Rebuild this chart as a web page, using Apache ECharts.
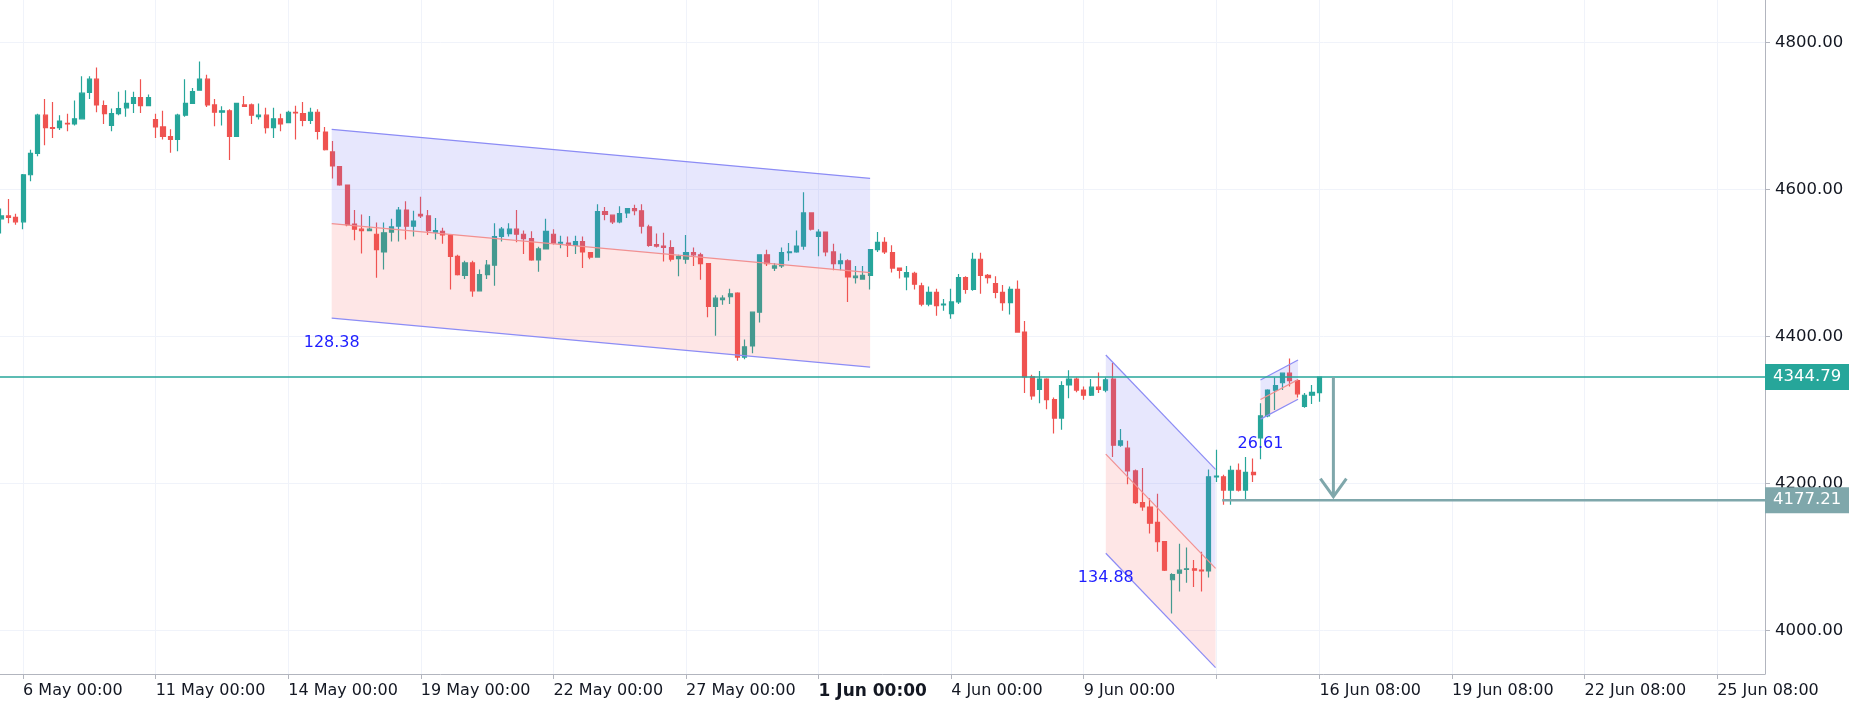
<!DOCTYPE html>
<html>
<head>
<meta charset="utf-8">
<title>Price channels</title>
<script src="https://cdn.jsdelivr.net/npm/echarts@6/dist/echarts.min.js"></script>
<style>
  html, body { margin: 0; padding: 0; background: #fff; }
  #chart { width: 1849px; height: 710px; }
</style>
</head>
<body>
<div id="chart"></div>
<script>
// candle values, one per bar (index 0 = first visible bar)
const opens = [4560,4564,4562,4556,4620,4649,4701,4684,4684,4690,4689,4696,4732,4750,4714,4687,4703,4711,4717,4725,
  4714,4695,4685,4672,4668,4701,4717,4735,4750,4715,4705,4707,4672,4715,4715,4699,4701,4684,4696,4691,
  4705,4703,4694,4705,4678,4651,4631,4606,4553,4546,4544,4539,4515,4542,4550,4572,4550,4566,4564,4542,
  4543,4538,4509,4483,4500,4462,4484,4497,4536,4540,4546,4539,4533,4504,4519,4539,4527,4527,4524,4529,
  4514,4508,4570,4565,4556,4568,4574,4571,4549,4525,4523,4521,4506,4505,4514,4511,4499,4441,4450,4454,
  4459,4372,4387,4433,4511,4493,4496,4514,4515,4523,4568,4536,4542,4515,4499,4503,4480,4478,4483,4518,
  4528,4514,4493,4481,4486,4469,4444,4460,4443,4431,4447,4480,4464,4505,4483,4472,4460,4446,4464,4406,
  4345,4328,4342,4314,4289,4334,4342,4327,4320,4331,4327,4342,4252,4248,4217,4174,4168,4147,4121,4069,
  4078,4083,4084,4082,4081,4209,4209,4191,4218,4191,4215,4262,4292,4327,4337,4350,4340,4305,4320,4323.5];
const closes = [4564,4562,4556,4620,4649,4701,4684,4683,4693,4689,4696,4731,4750,4715,4703,4703,4710,4717,4725,4714,
  4725,4685,4672,4668,4701,4717,4733,4750,4715,4705,4707,4672,4717,4713,4701,4701,4684,4696,4689,4705,
  4704,4694,4705,4679,4654,4632,4606,4552,4546,4544,4546,4518,4541,4549,4572,4550,4557,4564,4544,4544,
  4538,4509,4484,4500,4462,4484,4497,4536,4546,4546,4539,4533,4504,4519,4543,4527,4528,4524,4529,4515,
  4508,4570,4566,4556,4567,4574,4571,4550,4524,4523,4521,4505,4509,4514,4511,4499,4441,4452,4452,4458,
  4372,4386,4433,4511,4499,4496,4514,4515,4523,4568,4546,4542,4515,4499,4503,4481,4482,4483,4518,4528,
  4515,4493,4490,4487,4471,4444,4460,4442,4444,4447,4480,4464,4505,4483,4480,4460,4446,4464,4406,4345,
  4319,4342,4314,4289,4333,4342,4327,4320,4331,4328,4341,4252,4258,4217,4174,4168,4146,4121,4082,4076,
  4082,4084,4082,4081,4209,4210,4191,4218,4191,4215,4212,4292,4327,4333,4350,4340,4322,4320,4324,4344.79];
const lows = [4540,4554,4552,4546,4611,4645,4660,4670,4681,4679,4687,4695,4723,4705,4689,4679,4701,4699,4704,4704,
  4713,4670,4668,4650,4652,4699,4717,4735,4712,4686,4687,4640,4672,4712,4689,4695,4676,4670,4679,4690,
  4668,4686,4689,4668,4653,4615,4605,4550,4531,4513,4544,4480,4491,4529,4529,4532,4536,4561,4538,4532,
  4526,4464,4483,4478,4454,4462,4478,4469,4529,4536,4528,4512,4503,4488,4519,4525,4520,4508,4512,4493,
  4505,4507,4558,4553,4554,4561,4565,4540,4522,4521,4502,4502,4482,4499,4496,4477,4426,4401,4443,4444,
  4367,4369,4377,4419,4496,4489,4493,4503,4514,4518,4544,4509,4509,4490,4490,4447,4472,4477,4464,4515,
  4512,4487,4479,4463,4464,4441,4441,4428,4435,4424,4444,4458,4462,4458,4472,4452,4435,4430,4405,4323,
  4314,4309,4301,4268,4273,4316,4324,4314,4319,4323,4324,4236,4250,4199,4172,4163,4132,4107,4081,4023,
  4053,4065,4059,4053,4072,4202,4171,4171,4189,4178,4202,4233,4290,4300,4327,4332,4317,4303,4308,4311];
const highs = [4574,4587,4567,4621,4654,4703,4723,4719,4701,4703,4721,4754,4754,4766,4721,4710,4733,4735,4733,4750,
  4729,4703,4707,4682,4703,4750,4738,4774,4756,4723,4713,4709,4718,4727,4717,4717,4711,4711,4703,4707,
  4714,4719,4711,4709,4685,4666,4631,4606,4572,4566,4564,4555,4555,4560,4576,4584,4571,4590,4572,4561,
  4548,4538,4511,4503,4503,4491,4504,4554,4549,4554,4572,4544,4543,4522,4560,4546,4537,4536,4537,4536,
  4515,4580,4576,4565,4577,4574,4579,4580,4552,4540,4541,4531,4511,4538,4521,4514,4499,4456,4456,4465,
  4460,4396,4433,4511,4518,4500,4521,4527,4544,4596,4568,4546,4542,4526,4513,4505,4496,4496,4519,4542,
  4535,4524,4493,4496,4488,4473,4468,4465,4451,4465,4485,4482,4514,4514,4485,4482,4470,4468,4476,4421,
  4348,4353,4343,4317,4339,4354,4344,4332,4342,4351,4344,4364,4274,4258,4219,4221,4180,4186,4121,4078,
  4118,4113,4096,4107,4219,4246,4212,4224,4227,4236,4234,4309,4328,4344,4350,4370,4342,4323,4334,4345];

// bar slots on the time axis (past bars plus empty future)
const slotCount = 240;
const tickIdx = [3, 21, 39, 57, 75, 93, 111, 129, 147, 165, 179, 197, 215, 233];
const tickLabels = ['6 May 00:00', '11 May 00:00', '14 May 00:00', '19 May 00:00', '22 May 00:00',
  '27 May 00:00', '1 Jun 00:00', '4 Jun 00:00', '9 Jun 00:00', '', '16 Jun 08:00',
  '19 Jun 08:00', '22 Jun 08:00', '25 Jun 08:00'];
const boldLabel = '1 Jun 00:00';
const yTicks = [4000, 4200, 4400, 4600, 4800];
const yMin = 3940.8;
const yMax = 4857.7;

// parallel channels: start / end bar, mid-line price at both ends, half width
const chanStart = [44.9, 150.0, 171.0];
const chanEnd = [118.0, 164.9, 176.1];
const chanMidStart = [4553.4, 4239.9, 4314.1];
const chanMidEnd = [4486.7, 4084.4, 4341.3];
const chanHalf = [128.38, 134.88, 26.61];

// horizontal levels and projection arrow
const lastPrice = 4344.79;
const targetPrice = 4177.21;
const targetStart = 165.8;
const arrowBar = 180.9;
const arrowTip = 4182;

const UP = '#26a69a';
const DOWN = '#ef5350';
const AXIS = '#b2b5be';
const GRID = '#f0f3fa';
const FONT = 'DejaVu Sans';

const labelAt = {};
tickIdx.forEach((t, k) => { labelAt[t] = tickLabels[k]; });
const labelledTicks = tickIdx.filter(t => labelAt[t] !== '');

const chart = echarts.init(document.getElementById('chart'), null, { renderer: 'canvas' });

const candles = opens.map((o, i) => [o, closes[i], lows[i], highs[i]]);
const channelData = chanStart.map((s, i) => [s, chanEnd[i], chanMidStart[i], chanMidEnd[i], chanHalf[i]]);

function renderChannel(params, api) {
  const x0 = api.value(0), x1 = api.value(1);
  const m0 = api.value(2), m1 = api.value(3), h = api.value(4);
  const tl = api.coord([x0, m0 + h]), tr = api.coord([x1, m1 + h]);
  const ml = api.coord([x0, m0]), mr = api.coord([x1, m1]);
  const bl = api.coord([x0, m0 - h]), br = api.coord([x1, m1 - h]);
  const edge = { stroke: '#8c8cf5', lineWidth: 1.2, fill: null };
  return {
    type: 'group',
    children: [
      { type: 'polygon', shape: { points: [tl, tr, mr, ml] }, style: { fill: 'rgba(110,110,245,0.17)' } },
      { type: 'polygon', shape: { points: [ml, mr, br, bl] }, style: { fill: 'rgba(245,90,90,0.15)' } },
      { type: 'polyline', shape: { points: [tl, tr] }, style: edge },
      { type: 'polyline', shape: { points: [bl, br] }, style: edge },
      { type: 'polyline', shape: { points: [ml, mr] }, style: { stroke: '#f29090', lineWidth: 1.2, fill: null } },
      {
        type: 'text',
        style: {
          text: h.toFixed(2), x: bl[0], y: bl[1] + 25, align: 'center', verticalAlign: 'middle',
          fill: '#1e1eff', fontSize: 16, fontFamily: FONT
        }
      }
    ]
  };
}

function priceTag(y, xRight, price, color) {
  return [
    { type: 'rect', shape: { x: xRight, y: y - 13, width: 90, height: 26 }, style: { fill: color } },
    {
      type: 'text',
      style: {
        text: price.toFixed(2), x: xRight + 8, y: y, verticalAlign: 'middle',
        fill: '#fff', fontSize: 16.5, fontFamily: FONT
      }
    }
  ];
}

function renderLevels(params, api) {
  const right = api.coord([slotCount - 0.5, lastPrice])[0];
  const a = api.coord([-0.5, lastPrice]);
  const t0 = api.coord([targetStart, targetPrice]);
  const top = api.coord([arrowBar, lastPrice]);
  const tip = api.coord([arrowBar, arrowTip]);
  const grey = '#7fa7ab';
  return {
    type: 'group',
    children: [
      { type: 'line', shape: { x1: a[0], y1: a[1], x2: right, y2: a[1] }, style: { stroke: UP, lineWidth: 1.6 } },
      { type: 'line', shape: { x1: t0[0], y1: t0[1], x2: right, y2: t0[1] }, style: { stroke: grey, lineWidth: 2.6 } },
      { type: 'line', shape: { x1: top[0], y1: top[1], x2: tip[0], y2: tip[1] }, style: { stroke: grey, lineWidth: 3 } },
      {
        type: 'polyline',
        shape: { points: [[tip[0] - 13, tip[1] - 18], [tip[0], tip[1]], [tip[0] + 13, tip[1] - 18]] },
        style: { stroke: grey, lineWidth: 3, fill: null }
      }
    ].concat(priceTag(a[1], right, lastPrice, UP), priceTag(t0[1], right, targetPrice, grey))
  };
}

const option = {
  animation: false,
  backgroundColor: '#ffffff',
  grid: { left: -2.68, right: 84, top: 0, bottom: 36, outerBoundsMode: 'none' },
  xAxis: [
    {
      type: 'category',
      position: 'bottom',
      data: Array.from({ length: slotCount }, (_, i) => String(i)),
      boundaryGap: true,
      show: false
    },
    {
      type: 'value',
      position: 'bottom',
      min: -0.5,
      max: slotCount - 0.5,
      axisLine: { show: true, onZero: false, lineStyle: { color: AXIS } },
      axisTick: { show: true, customValues: tickIdx, length: 5, lineStyle: { color: AXIS } },
      axisLabel: {
        customValues: labelledTicks,
        formatter: v => (labelAt[v] === boldLabel ? '{b|' + labelAt[v] + '}' : labelAt[v] || ''),
        align: 'left',
        margin: 9,
        color: '#131722',
        fontSize: 16,
        fontFamily: FONT,
        rich: { b: { fontWeight: 'bold', fontSize: 17, fontFamily: FONT, color: '#131722' } }
      },
      splitLine: { show: true, lineStyle: { color: GRID } }
    }
  ],
  yAxis: {
    type: 'value',
    position: 'right',
    min: yMin,
    max: yMax,
    axisLine: { show: true, onZero: false, lineStyle: { color: AXIS } },
    axisTick: { show: true, customValues: yTicks, length: 5, lineStyle: { color: AXIS } },
    axisLabel: {
      customValues: yTicks,
      formatter: v => Number(v).toFixed(2),
      margin: 10,
      color: '#131722',
      fontSize: 16.5,
      fontFamily: FONT
    },
    splitLine: { show: true, lineStyle: { color: GRID } }
  },
  series: [
    {
      type: 'candlestick',
      xAxisIndex: 0,
      data: candles,
      barWidth: 4.6,
      itemStyle: { color: UP, color0: DOWN, borderColor: UP, borderColor0: DOWN, borderColorDoji: UP, borderWidth: 1.2 },
      z: 2
    },
    {
      type: 'custom',
      xAxisIndex: 1,
      data: channelData,
      renderItem: renderChannel,
      silent: true,
      z: 3
    },
    {
      type: 'custom',
      xAxisIndex: 1,
      data: [[arrowBar, lastPrice]],
      renderItem: renderLevels,
      silent: true,
      z: 4
    }
  ]
};

chart.setOption(option);
</script>
</body>
</html>
